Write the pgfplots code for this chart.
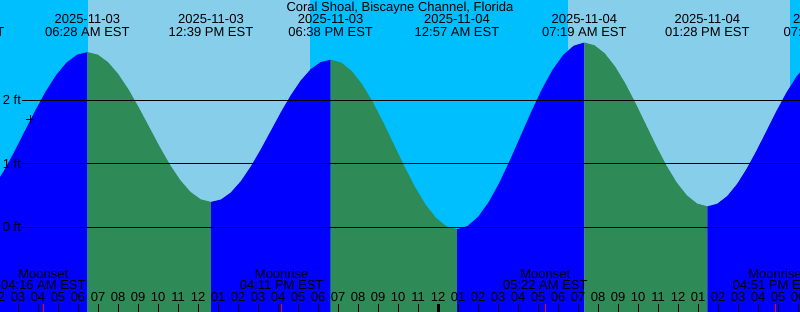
\documentclass[border=0pt]{standalone}
\usepackage{pgfplots}
\pgfplotsset{compat=1.18}
\usepackage{fontspec}
\setmainfont{Liberation Sans}
\definecolor{nightsky}{RGB}{0,191,255}
\definecolor{daysky}{RGB}{135,206,235}
\definecolor{risec}{RGB}{0,0,255}
\definecolor{fallc}{RGB}{46,139,87}
\newcommand{\fnt}{\fontsize{13pt}{15pt}\selectfont}
\begin{document}
\begin{tikzpicture}
\useasboundingbox (0,0) rectangle (800pt,312pt);
\clip (0,0) rectangle (800pt,312pt);
\begin{axis}[
  at={(0,0)}, anchor=south west,
  scale only axis, width=800pt, height=312pt,
  xmin=2.1, xmax=42.1, ymin=-1.334, ymax=3.580,
  axis line style={draw=none},
  ytick=\empty,
  xtick={3,...,42},
  xticklabels={03,04,05,06,07,08,09,10,11,12,01,02,03,04,05,06,07,08,09,10,11,12,01,02,03,04,05,06,07,08,09,10,11,12,01,02,03,04,05,06},
  xtick pos=bottom,
  tick align=inside,
  major tick length=8pt,
  tick style={black, line width=1pt},
  xticklabel style={anchor=base, yshift=10.3pt, font=\fnt, text=black},
  axis on top,
  clip=true,
]
% sky background: night / day
\addplot[fill=nightsky, draw=none] coordinates {(0,-2) (0,4) (6.5,4) (6.5,-2)} -- cycle;
\addplot[fill=daysky, draw=none] coordinates {(6.5,-2) (6.5,4) (17.6,4) (17.6,-2)} -- cycle;
\addplot[fill=nightsky, draw=none] coordinates {(17.6,-2) (17.6,4) (30.5,4) (30.5,-2)} -- cycle;
\addplot[fill=daysky, draw=none] coordinates {(30.5,-2) (30.5,4) (41.6,4) (41.6,-2)} -- cycle;
\addplot[fill=nightsky, draw=none] coordinates {(41.6,-2) (41.6,4) (44,4) (44,-2)} -- cycle;
% tide: rising (blue) and falling (green)
\addplot[fill=risec, draw=none] coordinates {(0.2,-2) (0.2,0.26) (0.722,0.303) (1.244,0.428) (1.767,0.626) (2.289,0.885) (2.811,1.187) (3.333,1.51) (3.856,1.834) (4.378,2.135) (4.900,2.394) (5.422,2.593) (5.944,2.717) (6.467,2.76) (6.467,-2)} -- cycle;
\addplot[fill=fallc, draw=none] coordinates {(6.467,-2) (6.467,2.76) (6.982,2.720) (7.497,2.602) (8.013,2.414) (8.528,2.17) (9.043,1.885) (9.559,1.58) (10.074,1.275) (10.589,0.99) (11.105,0.746) (11.620,0.558) (12.135,0.440) (12.65,0.40) (12.65,-2)} -- cycle;
\addplot[fill=risec, draw=none] coordinates {(12.65,-2) (12.65,0.40) (13.149,0.438) (13.647,0.550) (14.146,0.728) (14.644,0.96) (15.143,1.23) (15.642,1.52) (16.140,1.81) (16.639,2.08) (17.137,2.312) (17.636,2.490) (18.135,2.602) (18.633,2.64) (18.633,-2)} -- cycle;
\addplot[fill=fallc, draw=none] coordinates {(18.633,-2) (18.633,2.64) (19.159,2.595) (19.686,2.461) (20.212,2.249) (20.739,1.973) (21.265,1.651) (21.792,1.305) (22.318,0.960) (22.844,0.638) (23.371,0.361) (23.897,0.149) (24.424,0.015) (24.95,-0.03) (24.95,-2)} -- cycle;
\addplot[fill=risec, draw=none] coordinates {(24.95,-2) (24.95,-0.03) (25.481,0.020) (26.011,0.167) (26.542,0.401) (27.073,0.705) (27.603,1.060) (28.134,1.44) (28.664,1.820) (29.195,2.175) (29.726,2.479) (30.256,2.713) (30.787,2.860) (31.317,2.91) (31.317,-2)} -- cycle;
\addplot[fill=fallc, draw=none] coordinates {(31.317,-2) (31.317,2.91) (31.829,2.866) (32.342,2.737) (32.854,2.532) (33.367,2.265) (33.879,1.954) (34.392,1.62) (34.904,1.286) (35.417,0.975) (35.929,0.708) (36.442,0.503) (36.954,0.374) (37.467,0.33) (37.467,-2)} -- cycle;
\addplot[fill=risec, draw=none] coordinates {(37.467,-2) (37.467,0.33) (37.961,0.371) (38.456,0.490) (38.950,0.680) (39.445,0.928) (39.939,1.216) (40.434,1.525) (40.928,1.834) (41.422,2.123) (41.917,2.370) (42.411,2.560) (42.906,2.679) (43.4,2.72) (43.4,-2)} -- cycle;
% level lines
\addplot[black, line width=1pt] coordinates {(3.2,2) (44,2)};
\addplot[black, line width=1pt] coordinates {(3.2,1) (44,1)};
\addplot[black, line width=1pt] coordinates {(3.2,0) (44,0)};
% current mark
\addplot[only marks, mark=+, mark size=4pt, black, line width=1pt] coordinates {(3.6,1.70)};
% midnight tick and moon ticks
\addplot[black, line width=3pt] coordinates {(24,-1.5) (24,-1.208)};
\addplot[red, line width=1pt] coordinates {(4.267,-1.5) (4.267,-1.208)};
\addplot[red, line width=1pt] coordinates {(16.183,-1.5) (16.183,-1.208)};
\addplot[red, line width=1pt] coordinates {(29.367,-1.5) (29.367,-1.208)};
\addplot[red, line width=1pt] coordinates {(40.85,-1.5) (40.85,-1.208)};
% texts
\node[font=\fnt, anchor=base] at (axis cs:22.1,3.391) {Coral Shoal, Biscayne Channel, Florida};
\node[font=\fnt, anchor=base] at (axis cs:0.2,3.202) {2025-11-03};
\node[font=\fnt, anchor=base] at (axis cs:0.2,3.001) {12:12 AM EST};
\node[font=\fnt, anchor=base] at (axis cs:6.467,3.202) {2025-11-03};
\node[font=\fnt, anchor=base] at (axis cs:6.467,3.001) {06:28 AM EST};
\node[font=\fnt, anchor=base] at (axis cs:12.65,3.202) {2025-11-03};
\node[font=\fnt, anchor=base] at (axis cs:12.65,3.001) {12:39 PM EST};
\node[font=\fnt, anchor=base] at (axis cs:18.633,3.202) {2025-11-03};
\node[font=\fnt, anchor=base] at (axis cs:18.633,3.001) {06:38 PM EST};
\node[font=\fnt, anchor=base] at (axis cs:24.95,3.202) {2025-11-04};
\node[font=\fnt, anchor=base] at (axis cs:24.95,3.001) {12:57 AM EST};
\node[font=\fnt, anchor=base] at (axis cs:31.317,3.202) {2025-11-04};
\node[font=\fnt, anchor=base] at (axis cs:31.317,3.001) {07:19 AM EST};
\node[font=\fnt, anchor=base] at (axis cs:37.467,3.202) {2025-11-04};
\node[font=\fnt, anchor=base] at (axis cs:37.467,3.001) {01:28 PM EST};
\node[font=\fnt, anchor=base] at (axis cs:43.4,3.202) {2025-11-04};
\node[font=\fnt, anchor=base] at (axis cs:43.4,3.001) {07:24 PM EST};
\node[font=\fnt, anchor=base] at (axis cs:4.267,-0.803) {Moonset};
\node[font=\fnt, anchor=base] at (axis cs:4.267,-0.976) {04:16 AM EST};
\node[font=\fnt, anchor=base] at (axis cs:16.183,-0.803) {Moonrise};
\node[font=\fnt, anchor=base] at (axis cs:16.183,-0.976) {04:11 PM EST};
\node[font=\fnt, anchor=base] at (axis cs:29.367,-0.803) {Moonset};
\node[font=\fnt, anchor=base] at (axis cs:29.367,-0.976) {05:22 AM EST};
\node[font=\fnt, anchor=base] at (axis cs:40.85,-0.803) {Moonrise};
\node[font=\fnt, anchor=base] at (axis cs:40.85,-0.976) {04:51 PM EST};
\node[font=\fnt, anchor=base] at (axis cs:2,-1.172) {02};
\node[font=\fnt, anchor=west, inner sep=0pt] at (axis cs:2.235,2) {2 ft};
\node[font=\fnt, anchor=west, inner sep=0pt] at (axis cs:2.235,1) {1 ft};
\node[font=\fnt, anchor=west, inner sep=0pt] at (axis cs:2.235,0) {0 ft};
\end{axis}
\end{tikzpicture}
\end{document}
